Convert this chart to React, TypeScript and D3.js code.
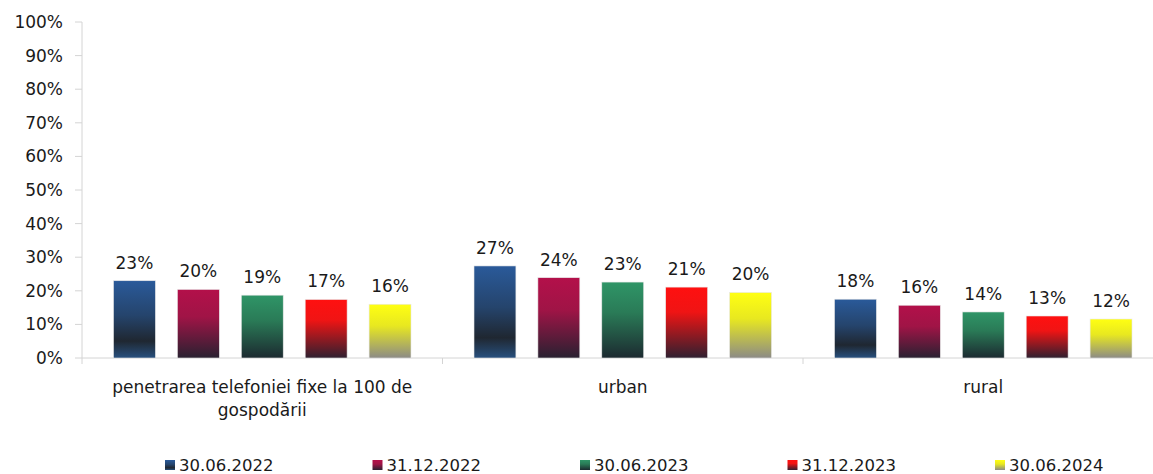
import React from 'react';
import * as d3 from 'd3';

const categories = ['penetrarea telefoniei fixe la 100 de gospodării', 'urban', 'rural'];
const seriesNames = ['30.06.2022', '31.12.2022', '30.06.2023', '31.12.2023', '30.06.2024'];
const s2022a = [23.0, 27.4, 17.5];
const s2022b = [20.4, 23.9, 15.7];
const s2023a = [18.7, 22.6, 13.7];
const s2023b = [17.4, 21.1, 12.5];
const s2024a = [16.0, 19.5, 11.6];
const seriesValues = [s2022a, s2022b, s2023a, s2023b, s2024a];
const yTicks = [0, 10, 20, 30, 40, 50, 60, 70, 80, 90, 100];

// vertical gradient stops per series (top -> bottom)
const gradients: [number, string][][] = [
  [[0, '#2a5a9a'], [0.45, '#25446c'], [0.78, '#1f2731'], [1, '#28507e']],
  [[0, '#b3104a'], [0.4, '#a01446'], [1, '#292131']],
  [[0, '#2f9567'], [0.4, '#2a7b57'], [1, '#1c2a30']],
  [[0, '#ff1010'], [0.35, '#f01414'], [1, '#2f2030']],
  [[0, '#ffff12'], [0.4, '#e8e820'], [1, '#8c8b86']],
];

const W = 1153;
const H = 474;
const FONT = '"DejaVu Sans", Verdana, sans-serif';
const left = 82;
const baseY = 358;
const topY = 22;
const bandW = 360.5;

function wrap(text: string, maxW: number, font: string): string[] {
  const ctx = document.createElement('canvas').getContext('2d');
  if (!ctx) return [text];
  ctx.font = font;
  const words = text.split(' ');
  const lines: string[] = [];
  let cur = '';
  for (const w of words) {
    const t = cur ? cur + ' ' + w : w;
    if (ctx.measureText(t).width > maxW && cur) {
      lines.push(cur);
      cur = w;
    } else cur = t;
  }
  if (cur) lines.push(cur);
  return lines;
}

export default function App() {
  const x0 = d3.scaleBand<string>()
    .domain(categories)
    .range([left, left + bandW * categories.length])
    .padding(0);
  const x1 = d3.scaleBand<string>()
    .domain(seriesNames)
    .range([31.5, bandW - 31.5])
    .paddingInner(0.344)
    .paddingOuter(0);
  const y = d3.scaleLinear().domain([0, 100]).range([baseY, topY]);

  return (
    <svg width={W} height={H} style={{ position: 'fixed', left: 0, top: 0, background: '#fff' }}
      fontFamily={FONT}>
      <defs>
        {gradients.map((g, i) => (
          <linearGradient key={i} id={`grad${i}`} x1="0" y1="0" x2="0" y2="1">
            {g.map(([o, c], j) => <stop key={j} offset={o} stopColor={c} />)}
          </linearGradient>
        ))}
      </defs>

      {/* y axis */}
      <line x1={left} x2={left} y1={topY} y2={baseY} stroke="#d4d4d4" />
      {yTicks.map(t => (
        <g key={t}>
          <line x1={left - 7} x2={left} y1={y(t)} y2={y(t)} stroke="#d4d4d4" />
          <text x={63} y={y(t)} dy="0.35em" textAnchor="end" fontSize={17} fill="#1a1a1a">{t}%</text>
        </g>
      ))}

      {/* x axis */}
      <line x1={left} x2={W} y1={baseY} y2={baseY} stroke="#d4d4d4" />
      {categories.map(c => (
        <line key={c} x1={x0(c)!} x2={x0(c)!} y1={baseY} y2={baseY + 6} stroke="#d4d4d4" />
      ))}

      {/* bars */}
      {categories.map((c, ci) => (
        <g key={c} transform={`translate(${x0(c)},0)`}>
          {seriesNames.map((s, si) => {
            const v = seriesValues[si][ci];
            const bx = x1(s)!;
            return (
              <g key={s}>
                <rect x={bx} y={y(v)} width={x1.bandwidth()} height={baseY - y(v)}
                  fill={`url(#grad${si})`} stroke="#e8e8e8" strokeWidth={0.6} />
                <text x={bx + x1.bandwidth() / 2} y={y(v) - 18} dy="0.35em" textAnchor="middle"
                  fontSize={17} fill="#1a1a1a">{Math.round(v)}%</text>
              </g>
            );
          })}
          {wrap(c, 320, `17px ${FONT}`).map((line, li) => (
            <text key={li} x={bandW / 2} y={387 + li * 23} dy="0.35em" textAnchor="middle"
              fontSize={17} fill="#1a1a1a">{line}</text>
          ))}
        </g>
      ))}

      {/* legend */}
      {seriesNames.map((s, si) => {
        const lx = 165 + si * 207.5;
        return (
          <g key={s}>
            <rect x={lx} y={460} width={10} height={10} fill={`url(#grad${si})`} />
            <text x={lx + 14} y={465} dy="0.35em" fontSize={16.5} fill="#1a1a1a">{s}</text>
          </g>
        );
      })}
    </svg>
  );
}
